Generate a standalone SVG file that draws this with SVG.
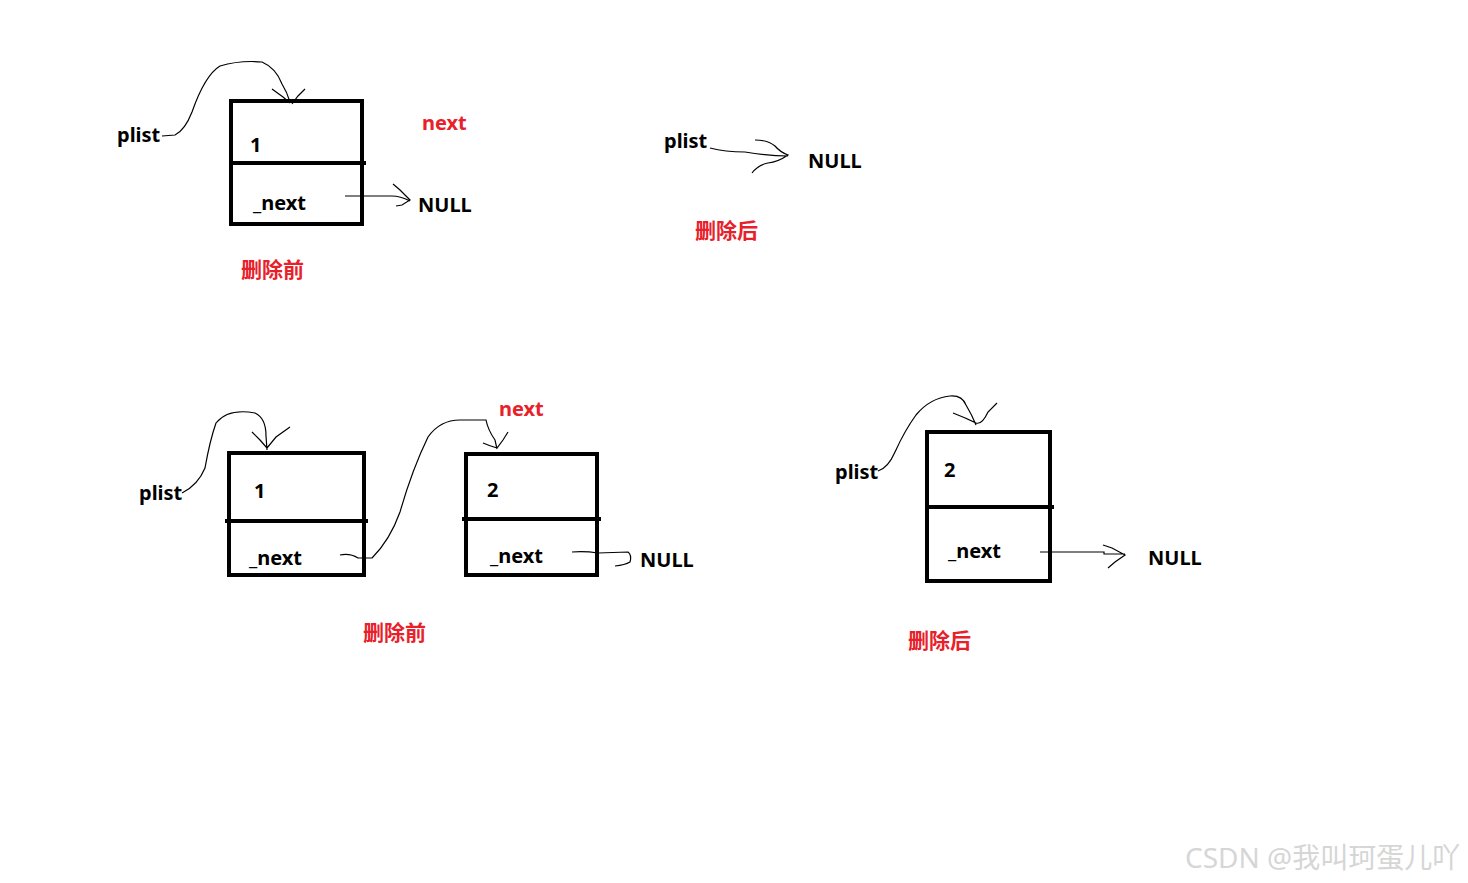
<svg xmlns="http://www.w3.org/2000/svg" width="1468" height="883" viewBox="0 0 1468 883">
<style>
.t{font-family:"Noto Sans","Noto Sans CJK SC",sans-serif;font-weight:bold;font-size:20px;fill:#000}
.r{fill:#e8202a}
.c{font-size:21px}
.box{fill:none;stroke:#000;stroke-width:4}
.dv{stroke:#000;stroke-width:4}
.ln{fill:none;stroke:#000;stroke-width:1.2}
.wm{font-family:"Noto Sans","Noto Sans CJK SC",sans-serif;font-size:28px;fill:#d6d6d6}
</style>
<rect width="1468" height="883" fill="#fff"/>
<g id="n1">
<rect class="box" x="231" y="101" width="131" height="123"/>
<line class="dv" x1="229" y1="163" x2="366" y2="163"/>
<text class="t" x="250" y="152">1</text>
<text class="t" x="253" y="210">_next</text>
</g>
<g id="labels1">
<text class="t" x="117" y="142">plist</text>
<text class="t r" x="422" y="130">next</text>
<text class="t" x="418" y="212">NULL</text>
<text class="t r c" x="241" y="277">删除前</text>
</g>
<g id="labels2">
<text class="t" x="664" y="148">plist</text>
<text class="t" x="808" y="168">NULL</text>
<text class="t r c" x="695" y="238">删除后</text>
</g>
<g id="n2">
<rect class="box" x="229" y="453" width="135" height="122"/>
<line class="dv" x1="225" y1="521" x2="368" y2="521"/>
<text class="t" x="254" y="498">1</text>
<text class="t" x="249" y="565">_next</text>
</g>
<g id="n3">
<rect class="box" x="466" y="454" width="131" height="121"/>
<line class="dv" x1="462" y1="519" x2="601" y2="519"/>
<text class="t" x="487" y="497">2</text>
<text class="t" x="490" y="563">_next</text>
</g>
<g id="labels3">
<text class="t" x="139" y="500">plist</text>
<text class="t r" x="499" y="416">next</text>
<text class="t" x="640" y="567">NULL</text>
<text class="t r c" x="363" y="640">删除前</text>
</g>
<g id="n4">
<rect class="box" x="927" y="432" width="123" height="149"/>
<line class="dv" x1="925" y1="507" x2="1054" y2="507"/>
<text class="t" x="944" y="477">2</text>
<text class="t" x="948" y="558">_next</text>
</g>
<g id="labels4">
<text class="t" x="835" y="479">plist</text>
<text class="t" x="1148" y="565">NULL</text>
<text class="t r c" x="908" y="648">删除后</text>
</g>
<g id="connectors">
<path class="ln" d="M162 136 L175 135 Q185 130 192 112 Q205 75 220 66 Q240 60 262 62 Q276 68 282 84 Q287 92 290 102"/>
<path class="ln" d="M272 89 L283 97 L290 103 M305 89 L298 96 L292 104"/>
<path class="ln" d="M345 196 L392 196 Q400 196 410 201 M393 184 L400 190 L410 200 L402 205 L396 206"/>
<path class="ln" d="M710 148 Q725 152 745 152 Q770 156 788 156 M755 140 Q768 140 775 146 Q780 152 788 155 Q778 162 768 163 Q758 165 752 173"/>
<path class="ln" d="M182 493 Q198 485 205 468 Q210 440 216 423 Q228 408 255 413 Q266 418 266 436 L267 450 M252 432 L260 440 L267 448 L276 437 L290 427"/>
<path class="ln" d="M340 555 Q350 553 358 558 L372 558 Q390 540 400 512 Q412 470 428 437 Q440 420 460 420 L486 420 Q488 430 495 440 L497 449 M483 443 Q490 446 497 448 L503 440 L508 432"/>
<path class="ln" d="M572 552 Q585 551 598 553 L628 552 Q632 555 630 562 Q625 565 615 566"/>
<path class="ln" d="M878 471 Q888 468 895 452 Q905 430 916 415 Q930 398 950 396 Q962 395 966 405 Q972 415 976 425 M953 413 Q966 418 976 423 Q982 425 988 412 L997 403"/>
<path class="ln" d="M1040 552 L1104 552 L1104 554 L1125 554 M1103 545 L1112 548 L1125 555 L1115 562 L1108 568"/>
</g>
<text class="wm" x="1185" y="868">CSDN @我叫珂蛋儿吖</text>
</svg>
